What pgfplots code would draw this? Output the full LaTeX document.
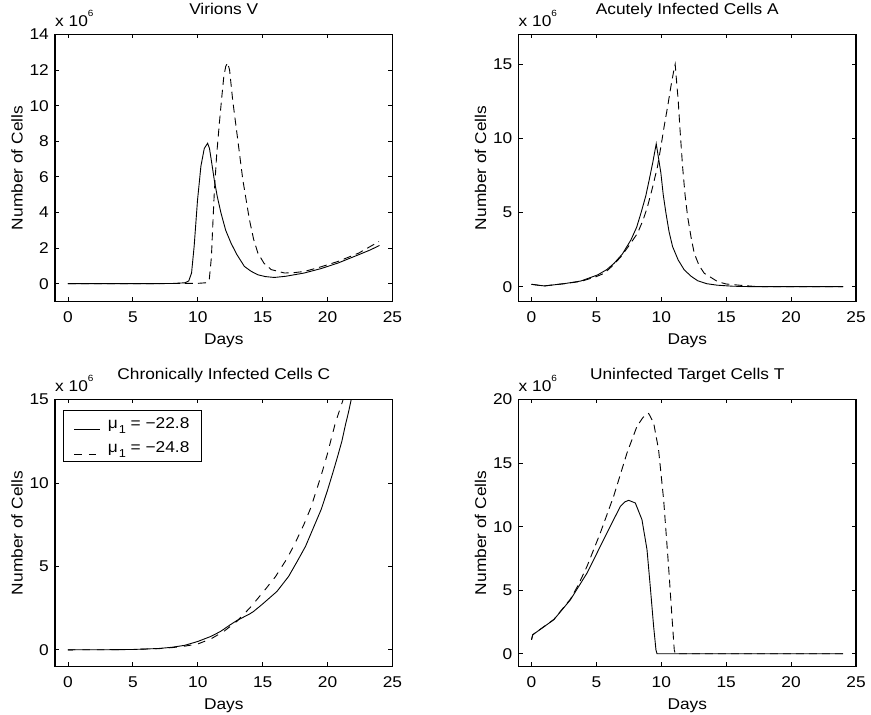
\documentclass[border=0pt]{standalone}
\usepackage{fontspec}
\setmainfont{Liberation Sans}[FakeStretch=1.11]
\usepackage{pgfplots}
\pgfplotsset{compat=1.18}
\newcommand\mf{\fontsize{15.6}{18}\selectfont}
\newcommand\xsix{x 10\raisebox{10pt}{\fontsize{9}{9}\selectfont 6}}
\newcommand\muone{μ\hspace{1pt}\raisebox{-5pt}{\fontsize{11.5}{12}\selectfont 1}}
\pgfplotsset{
  mat/.style={
    scale only axis, width=337.5pt, height=267pt,
    xmin=-1, xmax=25, xtick={0,5,...,25},
    tick align=inside, tick pos=both, major tick length=4pt,
    every tick/.style={line width=0.8pt,black},
    axis line style={line width=1.2pt},
    /pgf/number format/assume math mode=true,
    ticklabel style={font=\mf},
    xticklabel style={inner sep=0pt, anchor=north, yshift=-10pt},
    yticklabel style={inner sep=0pt, anchor=east, xshift=-6pt},
    label style={font=\mf},
    xlabel={Days}, ylabel={Number of Cells},
    xlabel style={at={(axis description cs:0.5,-0.161)}, anchor=base},
    ylabel style={at={(axis description cs:-0.0957,0.5)}, anchor=base},
    title style={font=\mf, at={(axis description cs:0.5,1.051)}, anchor=base},
    clip mode=individual,
    scaled y ticks=false,
    after end axis/.code={\node[anchor=base west, font=\mf, inner sep=0pt] at (rel axis cs:0,1.031) {\xsix};},
  },
  sol/.style={black, line width=0.9pt},
  das/.style={black, line width=0.9pt, dash pattern=on 8pt off 5pt},
}
\begin{document}
\mf
\begin{tikzpicture}
% ---------------- Virions V ----------------
\begin{axis}[mat, at={(55pt,413.5pt)}, anchor=south west,
  title={Virions V}, ymin=-1, ymax=14, ytick={0,2,...,14}]
\addplot[das] coordinates {(0,0) (5,0) (10,0.02) (10.6,0.05) (10.88,0.2) (11.05,1.5) (11.15,3.2) (11.27,5.09) (11.45,7.2) (11.66,9.0) (11.85,10.5) (12.0,11.6) (12.15,12.2) (12.3,12.41) (12.45,12.0) (12.69,10.3) (13.08,8.08) (13.47,5.83) (13.98,3.59) (14.3,2.5) (14.63,1.72) (15.1,1.15) (15.66,0.79) (16.69,0.6) (17.4,0.62) (18.24,0.69) (19.5,0.95) (20.8,1.25) (22.4,1.72) (23.96,2.37)};
\addplot[sol] coordinates {(0,0) (5,0) (8,0.01) (9,0.05) (9.3,0.15) (9.52,0.6) (9.72,2.1) (9.98,4.7) (10.24,6.6) (10.5,7.6) (10.76,7.89) (10.9,7.6) (11.05,6.9) (11.27,5.83) (11.5,4.9) (11.79,3.96) (12.15,3.0) (12.56,2.28) (13.0,1.65) (13.59,0.97) (14.1,0.7) (14.63,0.5) (15.2,0.4) (15.9,0.35) (16.8,0.42) (18.2,0.6) (19.5,0.85) (20.8,1.16) (22.4,1.63) (23.3,1.9) (24,2.15)};
\end{axis}
% ---------------- Acutely Infected A ----------------
\begin{axis}[mat, at={(518.5pt,413.5pt)}, anchor=south west,
  title={Acutely Infected Cells A}, ymin=-1, ymax=17, ytick={0,5,10,15}]
\addplot[das] coordinates {(0,0.16) (0.5,0.1) (1,0.05) (1.5,0.1) (2.5,0.2) (3.8,0.35) (5,0.68) (5.6,0.9) (6.3,1.45) (6.89,2.02) (7.5,2.75) (8.17,3.6) (8.6,4.5) (8.94,5.4) (9.3,6.6) (9.71,8.1) (10.0,9.6) (10.22,10.8) (10.5,12.2) (10.74,13.5) (10.95,14.5) (11.07,15.0) (11.2,13.6) (11.3,12.6) (11.45,10.5) (11.64,8.1) (11.83,6.2) (12.03,4.72) (12.3,3.3) (12.54,2.25) (12.9,1.45) (13.31,0.9) (14.34,0.34) (15,0.18) (16,0.1) (17,0.03) (18,0) (24,0)};
\addplot[sol] coordinates {(0,0.16) (0.5,0.1) (1,0.05) (1.5,0.1) (2.5,0.2) (3.8,0.38) (5.09,0.79) (5.8,1.15) (6.37,1.58) (7,2.2) (7.66,3.15) (8.1,4.0) (8.43,4.95) (8.8,6.1) (9.07,7.2) (9.35,8.4) (9.61,9.63) (9.8,8.6) (9.97,7.65) (10.15,6.2) (10.36,4.95) (10.6,3.7) (10.87,2.7) (11.3,1.8) (11.77,1.13) (12.3,0.7) (12.8,0.4) (13.5,0.2) (14.3,0.1) (15.5,0.03) (17,0) (24,0)};
\end{axis}
% ---------------- Chronically Infected C ----------------
\begin{axis}[mat, at={(55pt,48.5pt)}, anchor=south west,
  title={Chronically Infected Cells C}, ymin=-1, ymax=15, ytick={0,5,10,15},
  legend style={at={(0.025,0.962)}, anchor=north west, draw=black, line width=1pt,
    font=\mf, inner xsep=10pt, inner ysep=5pt, row sep=7pt,
    /tikz/every odd column/.append style={column sep=5pt}},
  legend cell align=left,
  legend image code/.code={\draw[#1] (0pt,-6pt) -- (26pt,-6pt);}]
\addplot[sol] coordinates {(0,0) (3,0.005) (5,0.02) (7,0.08) (8,0.15) (9,0.27) (10,0.5) (11,0.8) (11.75,1.1) (12.5,1.5) (13,1.75) (14,2.15) (14.3,2.3) (15,2.75) (16.1,3.5) (17,4.4) (17.66,5.3) (18.3,6.2) (18.9,7.3) (19.5,8.4) (19.97,9.5) (20.4,10.6) (20.74,11.5) (21.1,12.5) (21.38,13.5) (21.6,14.2) (21.82,15.0) (22.0,15.8)};
\addlegendentry{\muone{} = −22.8\hspace{4pt}}
\addplot[das, dash pattern=on 7.5pt off 7pt] coordinates {(0,0) (3,0.005) (5,0.02) (7,0.07) (8,0.13) (9,0.22) (10,0.35) (11,0.65) (12,1.1) (13,1.7) (14,2.5) (15.08,3.5) (16,4.4) (16.9,5.5) (17.5,6.4) (18.17,7.5) (18.7,8.5) (19.2,9.7) (19.6,10.7) (19.97,11.7) (20.3,12.7) (20.6,13.6) (20.9,14.3) (21.2,15.0) (21.4,15.7)};
\addlegendentry{\muone{} = −24.8\hspace{4pt}}
\end{axis}
% ---------------- Uninfected Target T ----------------
\begin{axis}[mat, at={(518.5pt,48.5pt)}, anchor=south west,
  title={Uninfected Target Cells T}, ymin=-1, ymax=20, ytick={0,5,...,20}]
\addplot[das] coordinates {(0,1.1) (0.1,1.5) (1.72,2.7) (3.0,4.3) (3.6,5.4) (4.28,6.88) (5.3,9.5) (6.33,12.39) (7.36,15.8) (8.13,17.9) (8.6,18.6) (9.03,18.9) (9.41,18.16) (9.79,16.06) (10.18,12.13) (10.56,6.88) (10.82,2.94) (11.0,0.3) (11.08,0) (24,0)};
\addplot[sol] coordinates {(0,1.1) (0.1,1.5) (1.72,2.68) (3.0,4.25) (4.28,6.35) (5.56,8.98) (6.33,10.55) (6.85,11.6) (7.2,11.95) (7.49,12.07) (8.0,11.86) (8.51,10.55) (8.9,8.19) (9.15,5.3) (9.41,2.15) (9.59,0.3) (9.67,0) (24,0)};
\end{axis}
\pgfresetboundingbox
\path[use as bounding box] (0pt,0pt) rectangle (871pt,715pt);
\end{tikzpicture}
\end{document}
